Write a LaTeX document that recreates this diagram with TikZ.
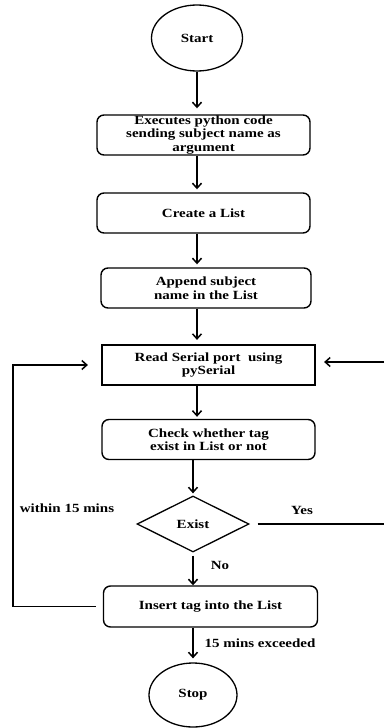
\documentclass[tikz,border=0pt]{standalone}
\usepackage{fontspec}
\setmainfont{Liberation Serif}[FakeStretch=1.2]
\usetikzlibrary{shapes.geometric,arrows.meta}

\tikzset{
  every node/.style={font=\bfseries\fontsize{12.5}{13.5}\selectfont},
  procbox/.style={draw, line width=1.4pt, rounded corners=7pt, align=center,
                  inner sep=0pt, minimum width=213pt, minimum height=40pt},
  iobox/.style={draw, line width=2.2pt, align=center,
                inner sep=0pt, minimum width=213pt, minimum height=40pt},
  terminal/.style={draw, ellipse, line width=1.3pt, inner sep=0pt},
  decision/.style={draw, diamond, line width=1.3pt, inner sep=0pt, aspect=2,
                   minimum width=112pt, minimum height=56pt},
  flow/.style={line width=1.5pt, -{Straight Barb[length=5pt,width=9pt,line width=1.5pt]}},
  plain/.style={line width=1.5pt},
  tag/.style={inner sep=0pt}
}

\begin{document}
\begin{tikzpicture}[x=1pt,y=-1pt]
\useasboundingbox (0,0) rectangle (384,728);

% terminals
\node[terminal, minimum width=91pt, minimum height=66pt] (start) at (197,38) {Start};
\node[terminal, minimum width=88pt, minimum height=64pt] (stop) at (193,695) {Stop};

% process steps
\node[procbox] (exec) at (203.5,135) {Executes python code\\sending subject name as\\argument};
\node[procbox] (create) at (203.5,213) {Create a List};
\node[procbox, minimum width=210pt] (append) at (206,288) {Append subject\\name in the List};
\node[iobox] (read) at (208.5,365) {Read Serial port\ \ using\\pySerial};
\node[procbox] (check) at (208.5,439.5) {Check whether tag\\exist in List or not};
\node[decision] (exist) at (193,524) {Exist};
\node[procbox, minimum width=214pt, minimum height=41pt] (insert) at (210.5,606.5) {Insert tag into the List};

% main chain
\draw[flow, shorten >=6pt] (start.south) -- (start.south |- exec.north);
\draw[flow, shorten >=3pt] (exec.south -| start.south) -- (create.north -| start.south);
\draw[flow, shorten >=3pt] (create.south -| start.south) -- (append.north -| start.south);
\draw[flow, shorten >=4pt] (append.south -| start.south) -- (read.north -| start.south);
\draw[flow, shorten >=2pt] (read.south -| start.south) -- (check.north -| start.south);
\draw[flow, shorten >=2pt] (check.south -| exist.north) -- (exist.north);
\draw[flow, shorten <=3pt] (exist.south) -- (exist.south |- insert.north);
\draw[flow, shorten >=4pt] (insert.south -| exist.south) -- (stop.north);

% loop back while within the time window
\coordinate (loopL) at (13,606.5);
\draw[flow, shorten <=7pt, shorten >=13pt]
  (insert.west) -- (loopL) -- (loopL |- read.west) -- (read.west);

% tag already listed: back to reading
\coordinate (yesEnd) at (384,524);
\coordinate (yesTop) at (384,362);
\draw[plain, shorten <=8pt] (exist.east) -- (yesEnd);
\draw[flow, shorten >=8pt] (yesTop) -- (yesTop -| read.east);

% branch labels
\node[tag] (lyes) at (302,510) {Yes};
\node[tag] (lno) at (220,565) {No};
\node[tag] (lwithin) at (67,508) {within 15 mins};
\node[tag] (lexceed) at (260,643) {15 mins exceeded};
\end{tikzpicture}
\end{document}
